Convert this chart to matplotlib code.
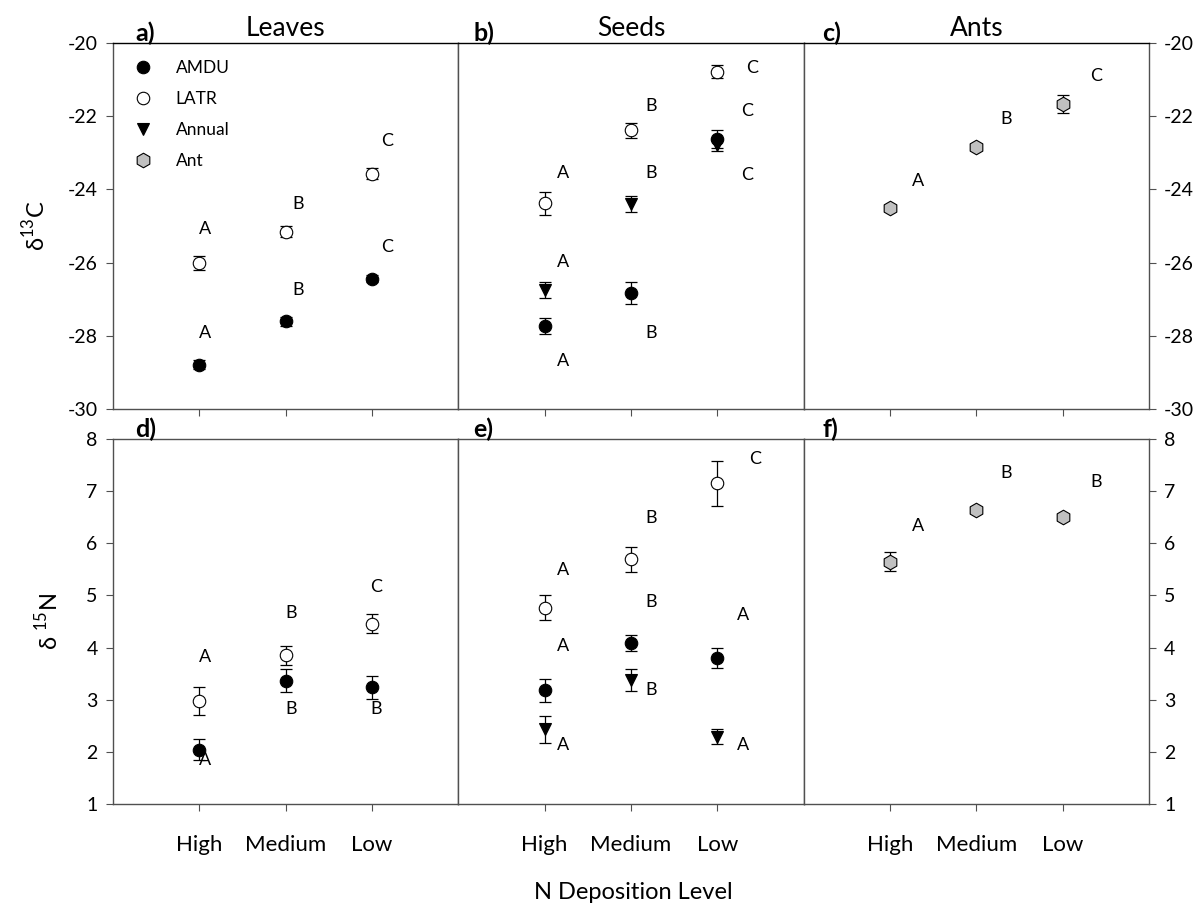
import matplotlib.pyplot as plt
from matplotlib.lines import Line2D
import numpy as np

plt.rcParams['font.family'] = ['Lato', 'DejaVu Sans']
plt.rcParams['mathtext.fontset'] = 'custom'
plt.rcParams['mathtext.rm'] = 'Lato'
plt.rcParams['axes.unicode_minus'] = False

# N deposition categories
levels = ['High', 'Medium', 'Low']

# delta 13C (top row)
amdu_leaf_c = [-28.79, -27.60, -26.44]
amdu_leaf_c_se = [0.12, 0.12, 0.10]
latr_leaf_c = [-26.01, -25.16, -23.57]
latr_leaf_c_se = [0.18, 0.15, 0.15]

amdu_seed_c = [-27.73, -26.82, -22.62]
amdu_seed_c_se = [0.22, 0.30, 0.25]
latr_seed_c = [-24.38, -22.39, -20.78]
latr_seed_c_se = [0.31, 0.20, 0.18]
annual_seed_c = [-26.75, -24.39, -22.78]
annual_seed_c_se = [0.23, 0.22, 0.16]

ant_c = [-24.51, -22.85, -21.67]
ant_c_se = [0.08, 0.08, 0.25]

# delta 15N (bottom row)
amdu_leaf_n = [2.04, 3.36, 3.24]
amdu_leaf_n_se = [0.20, 0.22, 0.22]
latr_leaf_n = [2.97, 3.85, 4.46]
latr_leaf_n_se = [0.27, 0.18, 0.18]

amdu_seed_n = [3.18, 4.09, 3.80]
amdu_seed_n_se = [0.22, 0.15, 0.20]
latr_seed_n = [4.76, 5.69, 7.15]
latr_seed_n_se = [0.24, 0.24, 0.43]
annual_seed_n = [2.43, 3.38, 2.29]
annual_seed_n_se = [0.26, 0.21, 0.14]

ant_n = [5.65, 6.64, 6.51]
ant_n_se = [0.18, 0.06, 0.06]

# significance letters: (level index, shift right, y value, letter)
letters_a = [(0, 0.07, -25.08, 'A'), (0, 0.07, -27.92, 'A'),
             (1, 0.15, -24.39, 'B'), (1, 0.15, -26.74, 'B'),
             (2, 0.17, -22.69, 'C'), (2, 0.17, -25.57, 'C')]
letters_b = [(0, 0.21, -23.56, 'A'), (0, 0.21, -25.97, 'A'), (0, 0.21, -28.70, 'A'),
             (1, 0.23, -21.71, 'B'), (1, 0.23, -23.56, 'B'), (1, 0.23, -27.93, 'B'),
             (2, 0.40, -20.67, 'C'), (2, 0.34, -21.87, 'C'), (2, 0.34, -23.60, 'C')]
letters_c = [(0, 0.32, -23.78, 'A'), (1, 0.35, -22.07, 'B'), (2, 0.39, -20.89, 'C')]
letters_d = [(0, 0.07, 3.82, 'A'), (0, 0.07, 1.85, 'A'),
             (1, 0.06, 4.66, 'B'), (1, 0.06, 2.82, 'B'),
             (2, 0.05, 5.16, 'C'), (2, 0.05, 2.82, 'B')]
letters_e = [(0, 0.21, 5.49, 'A'), (0, 0.21, 4.03, 'A'), (0, 0.21, 2.14, 'A'),
             (1, 0.23, 6.49, 'B'), (1, 0.23, 4.88, 'B'), (1, 0.23, 3.18, 'B'),
             (2, 0.44, 7.61, 'C'), (2, 0.30, 4.63, 'A'), (2, 0.30, 2.14, 'A')]
letters_f = [(0, 0.32, 6.33, 'A'), (1, 0.35, 7.34, 'B'), (2, 0.39, 7.18, 'B')]

styles = {
    'AMDU': dict(marker='o', mfc='black', ms=9),
    'LATR': dict(marker='o', mfc='white', ms=9),
    'Annual': dict(marker='v', mfc='black', ms=9),
    'Ant': dict(marker='h', mfc='#c0c0c0', ms=10.5),
}

x = np.arange(1, len(levels) + 1)
spine_col = '#505050'

fig = plt.figure(figsize=(11.97, 9.13), dpi=100)
left = 113 / 1197
w = 345.3 / 1197
rows = [(1 - 409 / 913, 366 / 913), (1 - 804 / 913, 365 / 913)]

panels = [
    ('a)', 'Leaves', 0, 0, [('AMDU', amdu_leaf_c, amdu_leaf_c_se), ('LATR', latr_leaf_c, latr_leaf_c_se)], letters_a),
    ('b)', 'Seeds', 0, 1, [('AMDU', amdu_seed_c, amdu_seed_c_se), ('LATR', latr_seed_c, latr_seed_c_se),
                           ('Annual', annual_seed_c, annual_seed_c_se)], letters_b),
    ('c)', 'Ants', 0, 2, [('Ant', ant_c, ant_c_se)], letters_c),
    ('d)', None, 1, 0, [('AMDU', amdu_leaf_n, amdu_leaf_n_se), ('LATR', latr_leaf_n, latr_leaf_n_se)], letters_d),
    ('e)', None, 1, 1, [('AMDU', amdu_seed_n, amdu_seed_n_se), ('LATR', latr_seed_n, latr_seed_n_se),
                        ('Annual', annual_seed_n, annual_seed_n_se)], letters_e),
    ('f)', None, 1, 2, [('Ant', ant_n, ant_n_se)], letters_f),
]
letter_dx = [0.064, 0.043, 0.055]

for tag, title, r, c, series, letters in panels:
    bottom, h = rows[r]
    ax = fig.add_axes([left + c * w, bottom, w, h])

    for name, vals, se in series:
        ax.errorbar(x, vals, yerr=se, fmt='none', ecolor='black', elinewidth=0.9,
                    capsize=4, capthick=0.9, zorder=2)
        ax.plot(x, vals, linestyle='none', mec='black', mew=0.8, zorder=3,
                **styles[name])

    for i, dx, yv, lab in letters:
        ax.text(x[i] + dx, yv, lab, ha='center', va='center', fontsize=13)

    ax.set_xlim(0, 4)
    ax.set_xticks(x)
    if r == 0:
        ax.set_ylim(-30, -20)
        ax.set_yticks(np.arange(-30, -19, 2))
        ax.set_xticklabels([])
    else:
        ax.set_ylim(1, 8)
        ax.set_yticks(np.arange(1, 9, 1))
        ax.set_xticklabels(levels, fontsize=16)

    for s in ax.spines.values():
        s.set_color(spine_col)
        s.set_linewidth(1)
    if r == 0:
        ax.spines['top'].set_color('black')

    ax.tick_params(axis='x', direction='out', length=5, width=0.8, color=spine_col, pad=17)
    if c == 0:
        ax.tick_params(axis='y', direction='out', length=5, width=0.8, color=spine_col,
                       labelsize=14, pad=6)
    elif c == 2:
        ax.yaxis.tick_right()
        ax.tick_params(axis='y', direction='out', length=5, width=0.8, color=spine_col,
                       labelsize=14, pad=6)
    else:
        ax.tick_params(axis='y', left=False, labelleft=False)

    if title:
        ax.set_title(title, fontsize=19, pad=5)
    ax.text(letter_dx[c], 0.995, tag, transform=ax.transAxes, ha='left', va='bottom',
            fontsize=18, fontweight='bold')

    if tag == 'a)':
        handles = [Line2D([], [], linestyle='none', mec='black', mew=0.8, **styles[k])
                   for k in ['AMDU', 'LATR', 'Annual', 'Ant']]
        ax.legend(handles, ['AMDU', 'LATR', 'Annual', 'Ant'], loc='upper left', frameon=False,
                  fontsize=12.5, handlelength=1.5, handletextpad=1.1, labelspacing=0.85,
                  borderaxespad=0.6)

fig.text(0.029, 1 - 226 / 913, 'δ$^{13}$C', rotation=90, ha='center', va='center', fontsize=17)
fig.text(0.040, 1 - 621 / 913, 'δ $^{15}$N', rotation=90, ha='center', va='center', fontsize=17)
fig.text(0.529, 0.022, 'N Deposition Level', ha='center', va='center', fontsize=17)

fig.savefig('out.png', dpi=100)
